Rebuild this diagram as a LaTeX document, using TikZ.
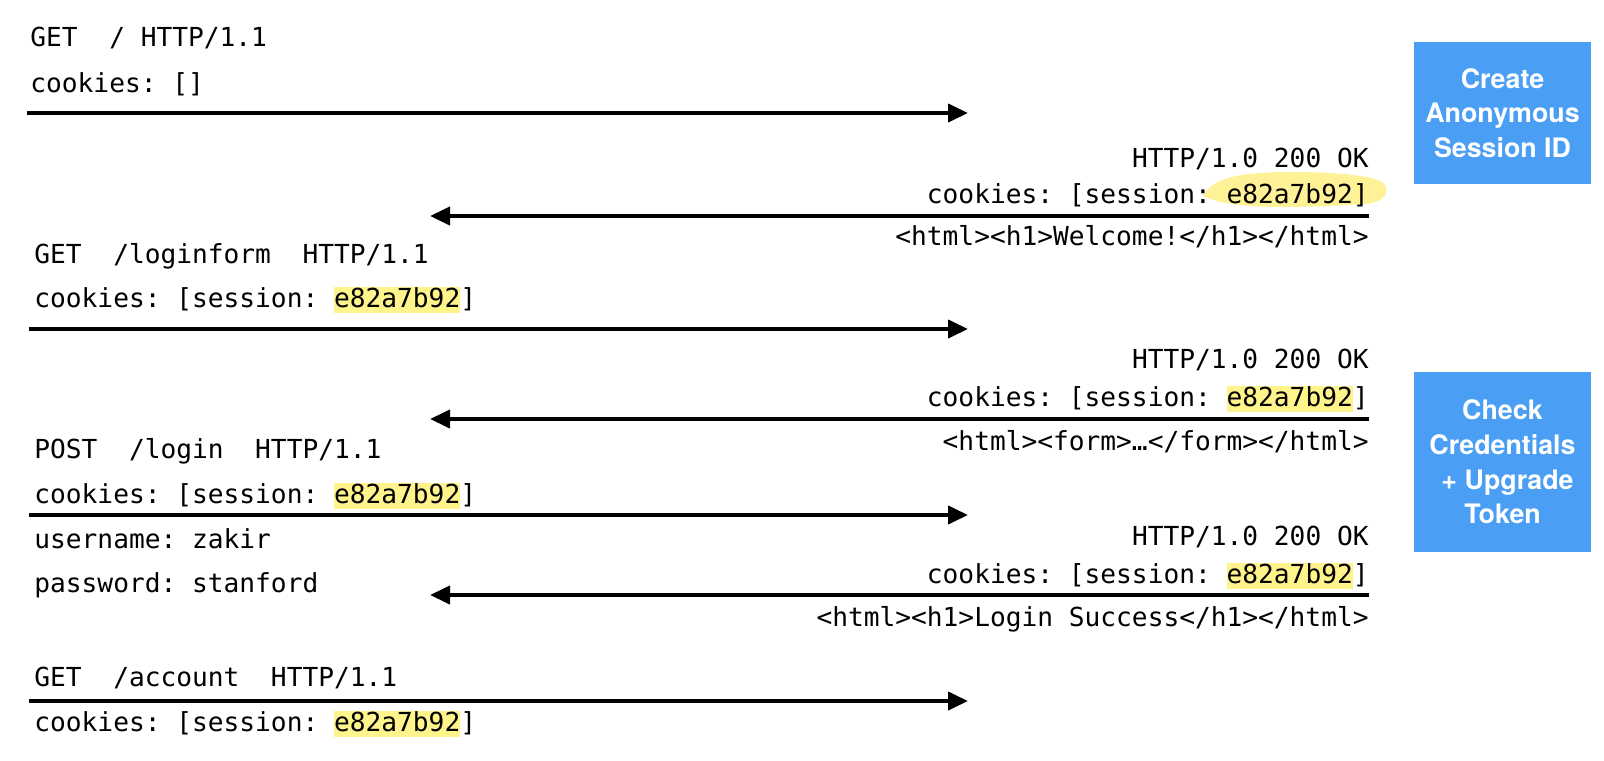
\documentclass[tikz,border=0pt]{standalone}
\usepackage{fontspec}
\setmonofont{DejaVu Sans Mono}
\setsansfont{TeX Gyre Heros}
\usetikzlibrary{positioning}
\usetikzlibrary{arrows.meta}

\definecolor{stepblue}{RGB}{74,159,245}
\definecolor{hlyellow}{RGB}{255,244,140}
\definecolor{penyellow}{RGB}{255,238,130}

\newcommand{\sessid}{{\setlength{\fboxsep}{0pt}\colorbox{hlyellow}{\rule[-3pt]{0pt}{13pt}e82a7b92}}}

\tikzset{
	msg/.style = {black, line width = 2pt, -{Triangle[length = 10pt, width = 9pt]}},
	reqtext/.style = {anchor = base west, inner sep = 0pt, font = \ttfamily\fontsize{13.1}{15}\selectfont},
	resptext/.style = {anchor = base east, inner sep = 0pt, font = \ttfamily\fontsize{13.1}{15}\selectfont},
	stepbox/.style = {fill = stepblue, text = white, align = center, inner sep = 0pt, minimum width = 88.5pt, font = \sffamily\bfseries\fontsize{13.4}{17.3}\selectfont}
}

\begin{document}
\begin{tikzpicture}[x = 0.5pt, y = -0.5pt]
							\useasboundingbox (0, 0) rectangle (1604, 760);
							% hand drawn marker
							\fill [penyellow, opacity = 0.85] (1203, 196) .. controls (1212, 178) and (1240, 172) .. (1290, 172) .. controls (1340, 172) and (1372, 176) .. (1382, 182) .. controls (1392, 190) and (1386, 202) .. (1365, 204) .. controls (1300, 208) and (1230, 210) .. (1203, 196) -- cycle;
							% request 1
							\node [reqtext] (get1) at (30, 46) {GET\ \ / HTTP/1.1};
							\node [reqtext] (cook1) at (30, 92) {cookies: []};
							\coordinate (r1a) at (27, 113);
							\coordinate (r1b) at (968, 113);
							\draw [msg] (r1a) -- (r1b);
							% response 1
							\node [resptext] (ok1) at (1369, 167) {HTTP/1.0 200 OK};
							\node [resptext] (set1) at (1369, 203) {cookies: [session: e82a7b92]};
							\node [resptext] (html1) at (1369, 245) {<html><h1>Welcome!</h1></html>};
							\coordinate (s1a) at (1369, 216);
							\coordinate (s1b) at (430, 216);
							\draw [msg] (s1a) -- (s1b);
							% request 2
							\node [reqtext] (get2) at (34, 263) {GET\ \ /loginform\ \ HTTP/1.1};
							\node [reqtext] (cook2) at (34, 307) {cookies: [session: \sessid]};
							\coordinate (r2a) at (29, 329);
							\coordinate (r2b) at (968, 329);
							\draw [msg] (r2a) -- (r2b);
							% response 2
							\node [resptext] (ok2) at (1369, 368) {HTTP/1.0 200 OK};
							\node [resptext] (set2) at (1369, 406) {cookies: [session: \sessid]};
							\node [resptext] (html2) at (1369, 450) {<html><form>…</form></html>};
							\coordinate (s2a) at (1369, 419);
							\coordinate (s2b) at (430, 419);
							\draw [msg] (s2a) -- (s2b);
							% request 3
							\node [reqtext] (post3) at (34, 458) {POST\ \ /login\ \ HTTP/1.1};
							\node [reqtext] (cook3) at (34, 503) {cookies: [session: \sessid]};
							\node [reqtext] (user3) at (34, 548) {username: zakir};
							\node [reqtext] (pass3) at (34, 592) {password: stanford};
							\coordinate (r3a) at (29, 515);
							\coordinate (r3b) at (968, 515);
							\draw [msg] (r3a) -- (r3b);
							% response 3
							\node [resptext] (ok3) at (1369, 545) {HTTP/1.0 200 OK};
							\node [resptext] (set3) at (1369, 583) {cookies: [session: \sessid]};
							\node [resptext] (html3) at (1369, 626) {<html><h1>Login Success</h1></html>};
							\coordinate (s3a) at (1369, 595);
							\coordinate (s3b) at (430, 595);
							\draw [msg] (s3a) -- (s3b);
							% request 4
							\node [reqtext] (get4) at (34, 686) {GET\ \ /account\ \ HTTP/1.1};
							\node [reqtext] (cook4) at (34, 731) {cookies: [session: \sessid]};
							\coordinate (r4a) at (29, 701);
							\coordinate (r4b) at (968, 701);
							\draw [msg] (r4a) -- (r4b);
							% server steps
							\node [stepbox, minimum height = 71pt] (create) at (1502.5, 113) {Create\\Anonymous\\Session ID};
							\node [stepbox, minimum height = 90pt] (check) at (1502.5, 462) {Check\\Credentials\\\hspace*{5pt}+ Upgrade\\Token};
						\end{tikzpicture}
\end{document}
